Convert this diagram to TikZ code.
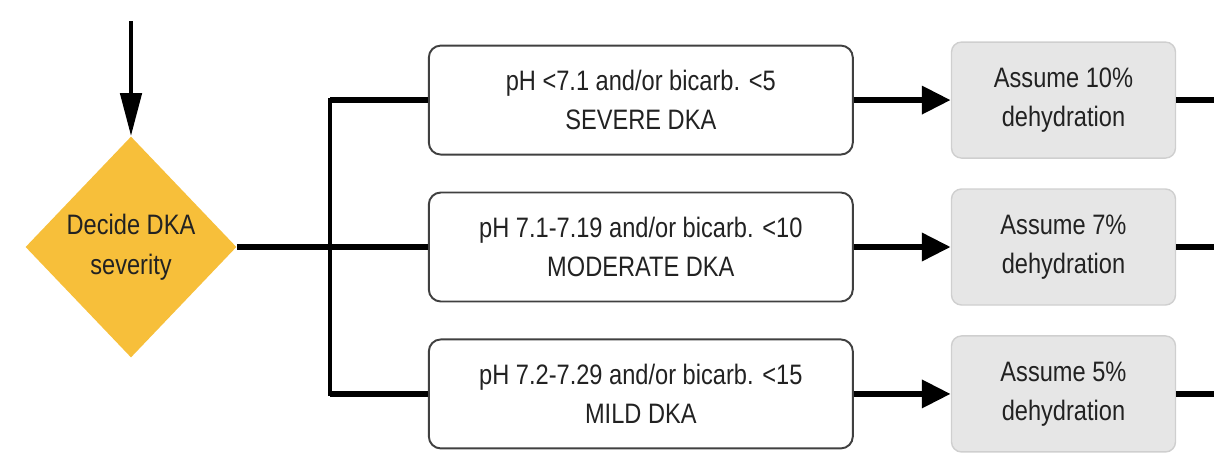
\documentclass[tikz,border=0pt]{standalone}
\usepackage{fontspec}
\setmainfont{Liberation Sans}[FakeStretch=0.84]
\usepackage{xcolor}
\usetikzlibrary{shapes.geometric, arrows.meta, positioning}

\definecolor{dkayellow}{HTML}{F7BF3A}
\definecolor{fluidgray}{HTML}{E6E6E6}
\definecolor{fluidedge}{HTML}{CFCFCF}
\definecolor{inkdark}{HTML}{222222}

\begin{document}
\begin{tikzpicture}[
  font=\fontsize{16}{22.5}\selectfont,
  decision/.style={diamond, aspect=1, fill=dkayellow, minimum width=4.22cm, minimum height=4.42cm, inner sep=0pt, align=center, text=inkdark},
  crit/.style={rectangle, draw=black!75, line width=1.1pt, rounded corners=0.24cm, minimum width=8.48cm, minimum height=2.18cm, align=center, fill=white, text=inkdark},
  fluid/.style={rectangle, draw=fluidedge, line width=0.8pt, rounded corners=0.2cm, minimum width=4.48cm, minimum height=2.32cm, align=center, fill=fluidgray, text=inkdark},
  hline/.style={line width=3.8pt, black},
  vline/.style={line width=2.6pt, black},
  arrow/.style={hline, -{Triangle[length=0.58cm, width=0.54cm]}}
]
  \useasboundingbox (0,0) rectangle (24.28,-9.44);

  \node[decision] (dec) at (2.62,-4.94) {Decide DKA\\severity};
  \node[crit, right=3.82cm of dec] (mod) {pH 7.1-7.19 and/or bicarb. <10\\MODERATE DKA};
  \node[crit, above=0.72cm of mod] (sev) {pH <7.1 and/or bicarb. <5\\SEVERE DKA};
  \node[crit, below=0.72cm of mod] (mild) {pH 7.2-7.29 and/or bicarb. <15\\MILD DKA};
  \node[fluid, right=1.94cm of sev] (f10) {Assume 10\%\\dehydration};
  \node[fluid, right=1.94cm of mod] (f7) {Assume 7\%\\dehydration};
  \node[fluid, right=1.94cm of mild] (f5) {Assume 5\%\\dehydration};

  \coordinate[above=2.3cm of dec.north] (entry);
  \coordinate (split) at (6.6,-4.94);
  \coordinate[right=0.84cm of f10.east] (out10);
  \coordinate[right=0.84cm of f7.east] (out7);
  \coordinate[right=0.84cm of f5.east] (out5);

  \draw[vline, -{Triangle[length=0.86cm, width=0.42cm]}] (entry) -- (dec.north);
  \draw[hline] (dec.east) -- (mod.west);
  \draw[vline, line cap=rect] (split |- sev.west) -- (split |- mild.west);
  \draw[hline] (split |- sev.west) -- (sev.west);
  \draw[hline] (split |- mild.west) -- (mild.west);

  \draw[arrow] (sev) -- (f10);
  \draw[arrow] (mod) -- (f7);
  \draw[arrow] (mild) -- (f5);

  \draw[hline] (f10) -- (out10);
  \draw[hline] (f7) -- (out7);
  \draw[hline] (f5) -- (out5);
\end{tikzpicture}
\end{document}
